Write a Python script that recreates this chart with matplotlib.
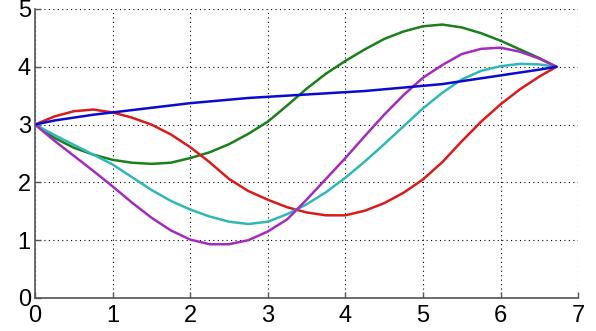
import matplotlib
matplotlib.use("Agg")
import matplotlib.pyplot as plt

x = [0, 0.25, 0.5, 0.75, 1.0, 1.25, 1.5, 1.75, 2.0, 2.25, 2.5, 2.75, 3.0, 3.25,
     3.5, 3.75, 4.0, 4.25, 4.5, 4.75, 5.0, 5.25, 5.5, 5.75, 6.0, 6.25, 6.5, 6.72]

blue = [3.0, 3.07, 3.12, 3.17, 3.21, 3.25, 3.29, 3.33, 3.37, 3.40, 3.43, 3.46, 3.48, 3.50,
        3.52, 3.54, 3.56, 3.58, 3.61, 3.64, 3.67, 3.70, 3.75, 3.80, 3.85, 3.90, 3.95, 4.0]
green = [3.0, 2.77, 2.60, 2.48, 2.39, 2.34, 2.32, 2.34, 2.42, 2.52, 2.66, 2.84, 3.05, 3.33,
         3.62, 3.88, 4.10, 4.30, 4.48, 4.61, 4.70, 4.73, 4.68, 4.58, 4.45, 4.30, 4.15, 4.0]
red = [3.0, 3.14, 3.23, 3.26, 3.21, 3.12, 3.00, 2.83, 2.61, 2.35, 2.06, 1.85, 1.70, 1.57,
       1.48, 1.43, 1.43, 1.51, 1.64, 1.82, 2.05, 2.35, 2.71, 3.05, 3.35, 3.61, 3.83, 4.0]
cyan = [3.0, 2.82, 2.65, 2.48, 2.31, 2.09, 1.87, 1.68, 1.53, 1.41, 1.32, 1.28, 1.32, 1.45,
        1.62, 1.83, 2.08, 2.36, 2.66, 2.97, 3.28, 3.55, 3.78, 3.93, 4.01, 4.05, 4.04, 4.0]
magenta = [3.0, 2.72, 2.46, 2.20, 1.93, 1.65, 1.39, 1.17, 1.01, 0.93, 0.93, 1.00, 1.15, 1.36,
           1.70, 2.06, 2.42, 2.80, 3.17, 3.51, 3.81, 4.03, 4.22, 4.31, 4.33, 4.26, 4.14, 4.0]

series = [
    (green, "#1b7f1b"),
    (red, "#d81c1c"),
    (cyan, "#30b8b8"),
    (magenta, "#a42cbc"),
    (blue, "#0a0ad2"),
]

xticks = [0, 1, 2, 3, 4, 5, 6, 7]
yticks = [0, 1, 2, 3, 4, 5]

fig = plt.figure(figsize=(5.96, 3.31), dpi=100)
ax = fig.add_axes([0.0587, 0.0997, 0.9113, 0.8733])

for ys, c in series:
    ax.plot(x, ys, color=c, lw=1.8, solid_capstyle="round", solid_joinstyle="round")

ax.set_xlim(0, 7)
ax.set_ylim(0, 5)
ax.set_xticks(xticks)
ax.set_yticks(yticks)
ax.set_xticklabels([str(t) for t in xticks])
ax.set_yticklabels([str(t) for t in yticks])
ax.grid(True, color="black", linestyle=(0, (1, 3)), linewidth=0.8)
ax.set_axisbelow(True)
for s in ["top", "right"]:
    ax.spines[s].set_visible(False)
for s in ["left", "bottom"]:
    ax.spines[s].set_color("#555555")
    ax.spines[s].set_linewidth(1.2)
ax.tick_params(direction="in", length=4, width=1, color="#555555",
               labelsize=17)
ax.tick_params(axis="x", pad=5)
ax.tick_params(axis="y", pad=3)
for lab in ax.get_xticklabels() + ax.get_yticklabels():
    lab.set_fontfamily("Liberation Sans")

fig.savefig("out.png", dpi=100)
